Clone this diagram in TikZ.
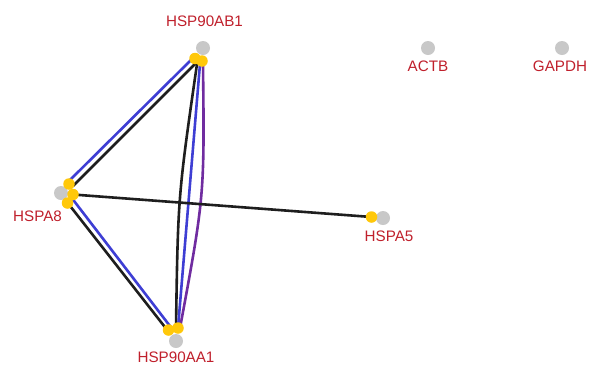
\documentclass[tikz,border=0pt]{standalone}
\usepackage{fontspec}
\setmainfont{Liberation Sans}
\usetikzlibrary{backgrounds}
\definecolor{eblue}{RGB}{62,62,212}
\definecolor{epurple}{RGB}{112,44,160}
\definecolor{eblack}{RGB}{30,30,30}
\definecolor{dotyellow}{RGB}{255,200,10}
\definecolor{dotgray}{RGB}{200,200,200}
\definecolor{labred}{RGB}{192,32,44}
\tikzset{
  gene/.style={circle,fill=dotgray,inner sep=0pt,minimum size=14pt},
  hit/.style={circle,fill=dotyellow,inner sep=0pt,minimum size=11.5pt},
  glabel/.style={text=labred,font=\fontsize{15.2}{17}\selectfont,inner sep=0pt},
  edge/.style={line width=2.6pt},
}
\begin{document}
\begin{tikzpicture}[x=1pt,y=-1pt]
\useasboundingbox (0,0) rectangle (592,365);
% genes
\node[gene] (ab1) at (203,48) {};
\node[gene] (a8) at (61,193) {};
\node[gene] (aa1) at (176,341) {};
\node[gene] (a5) at (383,218) {};
\node[gene] (actb) at (428,48) {};
\node[gene] (gapdh) at (562,48) {};
% labels
\node[glabel] (lab1) at (204.5,21.5) {HSP90AB1};
\node[glabel] (lab2) at (37.5,216) {HSPA8};
\node[glabel] (lab3) at (176,357.5) {HSP90AA1};
\node[glabel] (lab4) at (389,236) {HSPA5};
\node[glabel] (lab5) at (428,66) {ACTB};
\node[glabel] (lab6) at (560,66) {GAPDH};
% yellow end dots
\node[hit] (y1) at (195,58.5) {};
\node[hit] (y2) at (202,61) {};
\node[hit] (y3) at (69,184) {};
\node[hit] (y4) at (73,194.5) {};
\node[hit] (y5) at (67.5,203) {};
\node[hit] (y6) at (168.5,330) {};
\node[hit] (y7) at (178,328) {};
\node[hit] (y8) at (371.5,217) {};
% edges
\begin{pgfonlayer}{background}
\fill[white] (0,0) rectangle (592,365);
\coordinate (p1) at (193,58);
\coordinate (p2) at (69,181);
\coordinate (p3) at (198,61);
\coordinate (p4) at (73,186);
\coordinate (p5) at (71,197);
\coordinate (p6) at (173,330);
\coordinate (p7) at (67,202);
\coordinate (p8) at (168,331);
\coordinate (p9) at (197,64);
\coordinate (p10) at (176,328);
\coordinate (p11) at (200,64);
\coordinate (p12) at (178,328);
\coordinate (p13) at (203,64);
\coordinate (p14) at (180,328);
\draw[edge,eblue] (p1) -- (p2);
\draw[edge,eblack] (p3) -- (p4);
\draw[edge,eblack] (p7) -- (p8);
\draw[edge,eblue] (p5) -- (p6);
\draw[edge,eblack] (p9) .. controls (178,196) .. (p10);
\draw[edge,eblue] (p11) -- (p12);
\draw[edge,epurple] (p13) .. controls (204.5,196) .. (p14);
\draw[edge,eblack] (y4.center) -- (y8.center);
\end{pgfonlayer}
\end{tikzpicture}
\end{document}
